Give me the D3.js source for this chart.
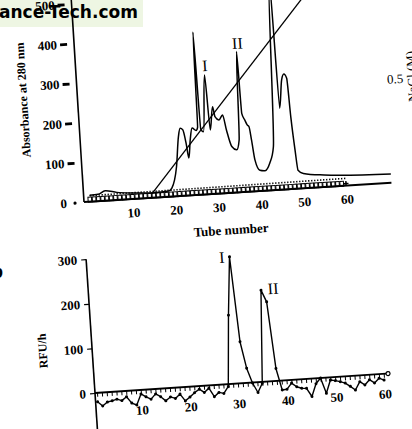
<!DOCTYPE html>
<html>
<head>
<meta charset="utf-8">
<script src="https://cdn.jsdelivr.net/npm/d3@7"></script>
<style>
  body { margin: 0; background: #fff; }
  svg { display: block; }
  text { fill: #000; }
</style>
</head>
<body>
<svg id="chart" width="412" height="429"></svg>
<script>
// panel a: absorbance trace (tube number, A280)
const absTube = [0, 2, 3.7, 6.4, 10, 15, 18.5, 19.3, 20.7, 21.6, 22.1, 22.7, 23.3, 23.7, 24.3, 24.9, 25.8,
  26.2, 26.5, 26.9, 27.5, 28.6, 29.1, 30.0, 30.4, 31.3, 32.2, 32.9, 33.9, 35.0, 35.7, 36.4, 36.7, 37.3,
  37.8, 38.2, 38.6, 39.1, 40.1, 41.3, 42.5, 43.6, 45.1, 45.6, 46.5, 47.1, 47.7, 48.1, 48.6, 49.0, 50.2, 55, 70.6];
const absValue = [16, 17, 25, 19, 15, 12, 14, 21, 74, 150, 170, 166, 130, 94, 140, 169, 162,
  170, 410, 165, 158, 300, 161, 219, 194, 185, 197, 158, 116, 107, 131, 354, 198, 181,
  168, 163, 129, 79, 52, 50, 68, 109, 540, 205, 276, 290, 279, 180, 97, 46, 37, 30, 22];

// NaCl gradient (tube, M)
const gradTube = [14.5, 54];
const gradNaCl = [0.017, 0.953];

// dotted trace and open-square series near the baseline
const dotTube = [0, 60];
const dotValue = [15, 18];
const squareTube = d3.range(0, 61);
const squareValue = [5, 5, 5, 5, 5, 5, 5, 5, 5, 5, 5, 5, 5, 5, 5, 5, 5, 5, 5, 5, 5, 5, 5, 5, 5, 5, 5, 5, 5, 5, 5,
  5, 5, 5, 5, 5, 5, 5, 5, 5, 5, 5, 5, 5, 5, 5, 5, 5, 5, 5, 5, 5, 5, 5, 5, 5, 5, 5, 5, 5, 5];

const absTicks = [0, 100, 200, 300, 400, 500];
const tubeTicks = [10, 20, 30, 40, 50, 60];

// panel b: activity (RFU/h) per tube
const rfuTube = d3.range(1, 61);
const rfuValue = [-20, -30, -22, -20, -17, -21, -13, -28, -33, -9, -16, -22, -11, -18, -28, -20, -24, -15, -31, -23,
  -14, -7, -15, -6, -26, -17, -20, -5, 154, 284, 93, 33, -1, -23, -3, 205, 178, 28, -21, -20,
  -7, -16, -20, -21, -40, -12, 0, -35, -6, -8, -11, -15, -23, -32, -14, -22, -11, -19, -9, -14];
const rfuTicks = [0, 100, 200, 300];

const serif = "Liberation Serif";
const svg = d3.select("#chart");

// watermark band
svg.append("rect").attr("x", 0).attr("y", 0).attr("width", 143).attr("height", 27).attr("fill", "#eef6e3");
svg.append("text")
  .attr("x", -1).attr("y", 18)
  .attr("font-family", "DejaVu Sans").attr("font-weight", "bold").attr("font-size", 18)
  .attr("textLength", 139).attr("lengthAdjust", "spacingAndGlyphs")
  .attr("fill", "#111").text("ance-Tech.com");

// ---------- panel a ----------
const gA = svg.append("g").attr("transform", "translate(84,202) rotate(-3.6)");
const xA = d3.scaleLinear().domain([-1.4, 70.6]).range([0, 308]);
const yA = d3.scaleLinear().domain([0, 500]).range([0, -198.5]);
const yN = d3.scaleLinear().domain([0, 1]).range([0, -206.8]);

gA.append("line").attr("x1", 0).attr("x2", 0).attr("y1", 0).attr("y2", yA(560))
  .attr("stroke", "#000").attr("stroke-width", 1.6);

const yAxA = gA.append("g").call(d3.axisLeft(yA).tickValues(absTicks).tickSize(0).tickPadding(17));
yAxA.select(".domain").remove();
yAxA.selectAll("text").attr("font-family", serif).attr("font-weight", "bold").attr("font-size", 13).attr("fill", "#000");
yAxA.selectAll(".tick").each(function (d) {
  const t = d3.select(this);
  if (d === 0) {
    t.append("circle").attr("cx", -9).attr("cy", 0).attr("r", 1.6).attr("fill", "#000");
  } else {
    t.append("rect").attr("x", -14).attr("y", -1.4).attr("width", 7).attr("height", 2.8).attr("fill", "#000");
  }
});

const xAxA = gA.append("g").call(d3.axisBottom(xA).tickValues(tubeTicks).tickSize(0).tickPadding(9));
xAxA.select(".domain").remove();
xAxA.selectAll("text").attr("font-family", serif).attr("font-weight", "bold").attr("font-size", 13).attr("fill", "#000");

// baseline series
gA.append("path")
  .datum(dotTube.map((t, i) => [t, dotValue[i]]))
  .attr("d", d3.line().x(d => xA(d[0])).y(d => yA(d[1])))
  .attr("fill", "none").attr("stroke", "#000").attr("stroke-width", 1.6).attr("stroke-dasharray", "1.3,1.7");

const sq = squareTube.map((t, i) => [t, squareValue[i]]);
gA.append("path")
  .datum(sq)
  .attr("d", d3.line().x(d => xA(d[0])).y(d => yA(d[1])))
  .attr("fill", "none").attr("stroke", "#000").attr("stroke-width", 1);
gA.selectAll(".sq").data(sq.slice(0, -1)).join("rect").attr("class", "sq")
  .attr("x", d => xA(d[0]) - 1.8).attr("y", d => yA(d[1]) - 2.5)
  .attr("width", 3.6).attr("height", 5)
  .attr("fill", "#fff").attr("stroke", "#000").attr("stroke-width", 1);
const lastSq = sq[sq.length - 1];
gA.append("path")
  .attr("d", `M${xA(lastSq[0]) - 2.5},${yA(lastSq[1])}h5M${xA(lastSq[0])},${yA(lastSq[1]) - 2.5}v5`)
  .attr("stroke", "#000").attr("stroke-width", 1.4);

// x axis line
gA.append("line").attr("x1", 0).attr("x2", xA(70.6)).attr("y1", 0).attr("y2", 0)
  .attr("stroke", "#000").attr("stroke-width", 2);

// gradient
gA.append("path")
  .datum(gradTube.map((t, i) => [t, gradNaCl[i]]))
  .attr("d", d3.line().x(d => xA(d[0])).y(d => yN(d[1])))
  .attr("fill", "none").attr("stroke", "#000").attr("stroke-width", 1.3);

// absorbance trace
gA.append("path")
  .datum(absTube.map((t, i) => [t, absValue[i]]))
  .attr("d", d3.line().x(d => xA(d[0])).y(d => yA(d[1])).curve(d3.curveMonotoneX))
  .attr("fill", "none").attr("stroke", "#000").attr("stroke-width", 1.5);

// peak labels
gA.append("text").attr("x", xA(28.8)).attr("y", yA(325) + 6).attr("text-anchor", "middle")
  .attr("font-family", serif).attr("font-size", 16).text("I");
gA.append("text").attr("x", xA(36.7)).attr("y", yA(376) + 6).attr("text-anchor", "middle")
  .attr("font-family", serif).attr("font-size", 16).text("II");

// NaCl tick label
gA.append("text").attr("x", xA(70.6) + 2).attr("y", yN(0.5) + 4.5)
  .attr("font-family", serif).attr("font-size", 13).attr("fill", "#000").text("0.5");

// axis titles
gA.append("text").attr("transform", "translate(-54.5,-105.6) rotate(-90)")
  .attr("text-anchor", "middle").attr("dy", "0.35em")
  .attr("font-family", serif).attr("font-weight", "bold").attr("font-size", 12)
  .text("Absorbance at 280 nm");
gA.append("text").attr("x", 145).attr("y", 41.5).attr("text-anchor", "middle")
  .attr("font-family", serif).attr("font-weight", "bold").attr("font-size", 13)
  .text("Tube number");

svg.append("text").attr("transform", "translate(416,76) rotate(-93.6)")
  .attr("text-anchor", "middle")
  .attr("font-family", serif).attr("font-size", 13).attr("fill", "#000").text("NaCl (M)");

// ---------- panel b ----------
svg.append("text").attr("x", -8).attr("y", 278)
  .attr("font-family", serif).attr("font-weight", "bold").attr("font-size", 20).text("b");

const gB = svg.append("g").attr("transform", "translate(95,393) rotate(-3.8)");
const xB = d3.scaleLinear().domain([0, 60]).range([-2.9, 289.3]);
const yB = d3.scaleLinear().domain([0, 300]).range([0, -134.1]);

gB.append("line").attr("x1", 0).attr("x2", 0).attr("y1", yB(-100)).attr("y2", yB(300))
  .attr("stroke", "#000").attr("stroke-width", 1.6);

const yAxB = gB.append("g").call(d3.axisLeft(yB).tickValues(rfuTicks).tickSize(5).tickPadding(4));
yAxB.select(".domain").remove();
yAxB.selectAll("line").attr("stroke", "#000").attr("stroke-width", 1.2);
yAxB.selectAll("text").attr("font-family", serif).attr("font-weight", "bold").attr("font-size", 13).attr("fill", "#000");

const xAxB = gB.append("g").call(d3.axisBottom(xB).tickValues(rfuTube).tickSize(4).tickPadding(11.5)
  .tickFormat(d => (d % 10 === 0 ? d : "")));
xAxB.select(".domain").remove();
xAxB.selectAll("line").attr("stroke", "#000").attr("stroke-width", 1);
xAxB.selectAll("text").attr("font-family", serif).attr("font-weight", "bold").attr("font-size", 13).attr("fill", "#000");

gB.append("line").attr("x1", 0).attr("x2", xB(60.5)).attr("y1", 0).attr("y2", 0)
  .attr("stroke", "#000").attr("stroke-width", 1.8);
gB.append("circle").attr("cx", xB(60.9)).attr("cy", 0).attr("r", 2)
  .attr("fill", "#fff").attr("stroke", "#000").attr("stroke-width", 1.2);

const rfu = rfuTube.map((t, i) => [t, rfuValue[i]]);
gB.append("path")
  .datum(rfu)
  .attr("d", d3.line().x(d => xB(d[0])).y(d => yB(d[1])))
  .attr("fill", "none").attr("stroke", "#000").attr("stroke-width", 1.4).attr("stroke-linejoin", "round");
gB.selectAll(".pt").data(rfu).join("circle").attr("class", "pt")
  .attr("cx", d => xB(d[0])).attr("cy", d => yB(d[1])).attr("r", 1.5).attr("fill", "#000");

gB.append("text").attr("x", xB(28.4)).attr("y", yB(285) + 6).attr("text-anchor", "middle")
  .attr("font-family", serif).attr("font-size", 16).text("I");
gB.append("text").attr("x", xB(38.5)).attr("y", yB(208) + 6).attr("text-anchor", "middle")
  .attr("font-family", serif).attr("font-size", 16).text("II");

gB.append("text").attr("transform", "translate(-49.6,-45.4) rotate(-90)")
  .attr("text-anchor", "middle").attr("dy", "0.35em")
  .attr("font-family", serif).attr("font-weight", "bold").attr("font-size", 12)
  .text("RFU/h");
</script>
</body>
</html>
